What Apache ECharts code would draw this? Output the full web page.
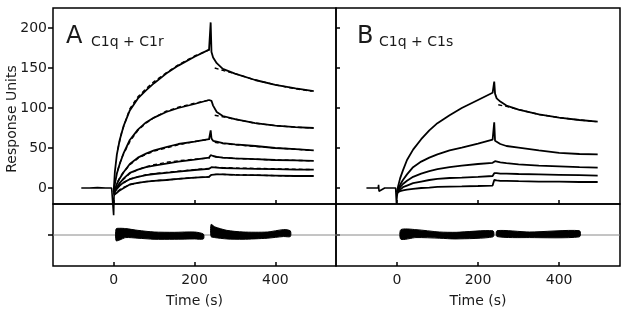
<!DOCTYPE html>
<html>
<head>
<meta charset="utf-8">
<script src="https://cdn.jsdelivr.net/npm/echarts@6/dist/echarts.min.js"></script>
<style>
  html, body { margin: 0; padding: 0; background: #fff; }
  #chart { width: 628px; height: 315px; }
</style>
</head>
<body>
<div id="chart"></div>
<script>
// time points (s) of the sensorgrams, association 0-240, dissociation 240-495
const tCurve = [0, 3, 8, 15, 25, 40, 60, 80, 100, 130, 160, 200, 236, 240, 242, 246, 255, 270, 300, 350, 400, 450, 495];

// panel A: C1q + C1r (response units)
const curvesA = [
  [-5, 20, 42, 60, 78, 97, 112, 122, 131, 143, 153, 164, 173, 207, 170, 163, 156, 149, 143, 135, 129, 124.5, 121],
  [-5, 5, 18, 30, 44, 60, 73, 82, 88, 95, 100, 105, 110, 111, 109, 103, 95, 90, 86, 81, 78, 76, 75],
  [-6, -2, 5, 12, 20, 30, 38, 43, 47, 51, 55, 58, 61, 72, 62, 59, 58, 56, 54.5, 52.5, 50, 48.5, 47],
  [-7, -4, 1, 6, 12, 19, 23, 26, 28, 30.5, 33, 35.5, 38, 41, 40.5, 40, 39, 38, 37, 36, 35, 34.5, 34],
  [-8, -5, -1, 3, 7, 11, 14, 16, 17.5, 19, 20.5, 22.5, 24, 26, 26, 26, 25.5, 25, 24.5, 24, 23.5, 23, 23],
  [-9, -8, -6, -3, 0, 4.5, 6.5, 8, 9, 10, 11.5, 13, 14, 16, 16.5, 17, 17, 17, 16.5, 16, 15.5, 15, 15]
];
const tBaseA = [-80, -60, -40, -20, -5, -1, 0, 1, 3];
const baseA = [0, 0, 0.5, 0, 0, -2, -34, -10, -5];

// fitted curves (dashed) for panel A
const tFitOn = [10, 20, 40, 60, 80, 100, 130, 160, 200, 238];
const tFitOff = [250, 270, 300, 350, 400, 450, 490];
const fitOnA = [
  [48, 70, 99, 114, 124, 133, 144, 154, 165, 173],
  [22, 38, 58, 72, 81, 88, 96, 101, 106, 110],
  [8, 17, 29, 37, 42, 46, 50, 54, 58, 61],
  [3, 9, 18, 23, 26.5, 29, 32, 34, 36, 37.5],
  [1, 5, 11, 14, 16.5, 18, 19.5, 21, 23, 24.5],
  [-4, 0, 4, 6.5, 8, 9, 10, 11.5, 13, 14]
];
const fitOffA = [
  [150, 147, 143, 135, 129, 124, 121],
  [91, 89, 86, 81, 78, 76, 75],
  [57, 55.5, 54, 52, 50, 48.5, 47],
  [39, 38, 37, 36, 35, 34.5, 34],
  [26, 25.5, 25, 24.5, 24, 23.5, 23],
  [17, 17, 16.5, 16, 15.5, 15, 15]
];

// panel B: C1q + C1s
const curvesB = [
  [-5, 2, 12, 22, 35, 48, 61, 72, 81, 91, 100, 110, 119, 133, 118, 112, 108, 103, 98, 92, 88, 85, 83],
  [-5, -1, 4, 10, 17, 26, 33, 38, 42, 47, 50.5, 55.5, 60.5, 82, 59, 57, 55, 52.5, 50.5, 47, 44, 42.5, 42],
  [-6, -3, 1, 5, 9, 14, 18, 21, 23.5, 26, 28, 30, 31.5, 34, 33.5, 33, 32, 31, 29.5, 28, 27, 26, 25.5],
  [-6, -4, -2, 1, 3, 6, 8, 10, 11.5, 12.5, 13, 14, 15, 18.5, 18.5, 18.5, 18, 18, 17.5, 17, 16.5, 16, 15.5],
  [-6, -5, -4, -3, -2, -1, 0, 0.5, 1.3, 1.8, 2, 2.5, 3, 10, 9.5, 9.5, 9, 9, 8.5, 8, 8, 7.5, 7.5]
];
const tBaseB = [-75, -60, -46, -45, -44, -30, -15, -3, -1, 1, 3];
const baseB = [0, 0, 0, 4, -4, 0, 0, 0, -19, -8, -5];
const fitOffB1 = [104, 102, 98, 92, 88, 85, 83];

// residual bands (upper / lower edge)
const resTA1 = [6, 15, 30, 60, 100, 150, 200, 222];
const resUpA1 = [5.9, 6.5, 6.2, 4.5, 2.9, 2.6, 2.9, 0.9];
const resLoA1 = [-5.5, -4.8, -2.5, -3.1, -4.1, -4.1, -3.8, -3.8];
const resTA2 = [241, 250, 280, 320, 380, 420, 437];
const resUpA2 = [10.2, 7.9, 4.5, 2.9, 2.9, 5.2, 4];
const resLoA2 = [-1.5, -2.5, -3.8, -4.1, -3.1, -1.5, -1.5];
const resTB1 = [10, 47, 105, 146, 237];
const resUpB1 = [5.2, 5.2, 2.9, 2.6, 4];
const resLoB1 = [-4.1, -2.5, -3.1, -3.8, -1.8];
const resTB2 = [247, 327, 450];
const resUpB2 = [4.2, 2.9, 4.2];
const resLoB2 = [-1.5, -2.5, -1.8];

const xTicks = [0, 200, 400];
const yTicks = [0, 50, 100, 150, 200];

const FONT = 'DejaVu Sans';
const INK = '#1a1a1a';

function pairs(ts, vs) { return ts.map((t, i) => [t, vs[i]]); }

function xAx(grid, labels) {
  return {
    type: 'value', gridIndex: grid, min: -150, max: 550,
    axisLine: { show: false, onZero: false },
    splitLine: { show: false },
    axisTick: { show: true, inside: true, length: 4, customValues: xTicks, lineStyle: { color: '#000', width: 1.5 } },
    axisLabel: { show: labels, customValues: xTicks, margin: 7, color: INK, fontFamily: FONT, fontSize: 14 },
    name: labels ? 'Time (s)' : '', nameLocation: 'middle', nameGap: 28,
    nameTextStyle: { color: INK, fontFamily: FONT, fontSize: 14 }
  };
}

function yAx(grid, main, labels, inside) {
  return {
    type: 'value', gridIndex: grid,
    min: main ? -20 : -30, max: main ? 225 : 30,
    axisLine: { show: false, onZero: false },
    splitLine: { show: false },
    axisTick: { show: true, inside: inside, length: inside ? 4 : 5, customValues: main ? yTicks : [0], lineStyle: { color: '#000', width: 1.5 } },
    axisLabel: { show: labels, customValues: yTicks, margin: 6, color: INK, fontFamily: FONT, fontSize: 14 }
  };
}

const series = [];

function addLine(ax, data, dashed, width, clip) {
  series.push({
    type: 'line', xAxisIndex: ax, yAxisIndex: ax, data: data,
    showSymbol: false, symbol: 'none', clip: clip !== false, z: dashed ? 3 : 2,
    lineStyle: { color: '#000', width: width, type: dashed ? [4, 3] : 'solid' }
  });
}

// residual band: polygon between upper and lower edges, placed through the axes
function addBand(ax, ts, up, lo) {
  const rows = ts.map((t, i) => [t, up[i], lo[i]]);
  series.push({
    type: 'custom', xAxisIndex: ax, yAxisIndex: ax, data: rows, clip: true,
    encode: { x: 0, y: [1, 2] },
    renderItem: function (params, api) {
      if (params.dataIndex !== 0) return;
      const top = rows.map(r => api.coord([r[0], r[1]]));
      const bot = rows.map(r => api.coord([r[0], r[2]])).reverse();
      return {
        type: 'polygon',
        shape: { points: top.concat(bot), smooth: 0.25 },
        style: { fill: '#000', stroke: '#000', lineWidth: 1 }
      };
    }
  });
}

// centre line of the residual panels
function addZero(ax) {
  series.push({
    type: 'line', xAxisIndex: ax, yAxisIndex: ax, data: [[-150, 0], [550, 0]],
    symbol: 'none', z: 1, lineStyle: { color: '#8a8a8a', width: 1 }
  });
}

// panel A
addLine(0, pairs(tBaseA, baseA), false, 1.6, false);
curvesA.forEach(v => addLine(0, pairs(tCurve, v), false, 1.8));
fitOnA.forEach(v => addLine(0, pairs(tFitOn, v), true, 1.4));
fitOffA.forEach(v => addLine(0, pairs(tFitOff, v), true, 1.4));

// panel B
addLine(2, pairs(tBaseB, baseB), false, 1.6, false);
curvesB.forEach(v => addLine(2, pairs(tCurve, v), false, 1.8));
addLine(2, pairs(tFitOff, fitOffB1), true, 1.4);

// residuals
addZero(1);
addZero(3);
addBand(1, resTA1, resUpA1, resLoA1);
addBand(1, resTA2, resUpA2, resLoA2);
addBand(3, resTB1, resUpB1, resLoB1);
addBand(3, resTB2, resUpB2, resLoB2);

const gridStyle = { show: true, borderColor: '#000', borderWidth: 1.5, backgroundColor: 'transparent' };

const chart = echarts.init(document.getElementById('chart'));
chart.setOption({
  animation: false,
  backgroundColor: '#fff',
  grid: [
    Object.assign({ left: 53, top: 8, width: 283, height: 196 }, gridStyle),
    Object.assign({ left: 53, top: 204, width: 283, height: 62 }, gridStyle),
    Object.assign({ left: 336, top: 8, width: 284, height: 196 }, gridStyle),
    Object.assign({ left: 336, top: 204, width: 284, height: 62 }, gridStyle)
  ],
  xAxis: [xAx(0, false), xAx(1, true), xAx(2, false), xAx(3, true)],
  yAxis: [yAx(0, true, true, false), yAx(1, false, false, false), yAx(2, true, false, true), yAx(3, false, false, true)],
  graphic: [
    { type: 'text', x: 12, y: 119, rotation: Math.PI / 2,
      style: { text: 'Response Units', fill: INK, font: '14px "DejaVu Sans"', align: 'center', verticalAlign: 'middle' } },
    { type: 'text', x: 66, y: 37, style: { text: 'A', fill: INK, font: '24px "DejaVu Sans"', verticalAlign: 'middle' } },
    { type: 'text', x: 91, y: 42, style: { text: 'C1q + C1r', fill: INK, font: '14px "DejaVu Sans"', verticalAlign: 'middle' } },
    { type: 'text', x: 357, y: 37, style: { text: 'B', fill: INK, font: '24px "DejaVu Sans"', verticalAlign: 'middle' } },
    { type: 'text', x: 379, y: 42, style: { text: 'C1q + C1s', fill: INK, font: '14px "DejaVu Sans"', verticalAlign: 'middle' } }
  ],
  series: series
});
</script>
</body>
</html>
